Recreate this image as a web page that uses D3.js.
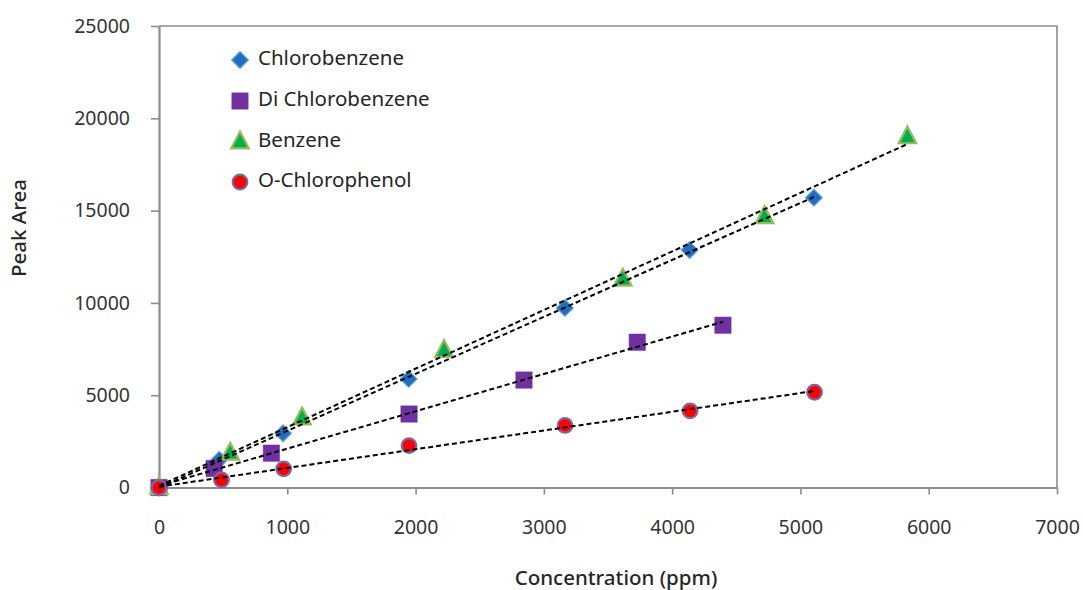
<!DOCTYPE html>
<html>
<head>
<meta charset="utf-8">
<script src="https://cdn.jsdelivr.net/npm/d3@7"></script>
<style>
  html, body { margin: 0; padding: 0; background: #fff; }
  svg { display: block; font-family: "Noto Sans", "Open Sans", sans-serif; }
</style>
</head>
<body>
<svg id="chart" width="1083" height="590"></svg>
<script>
// ---- Data ----
const seriesNames = ["Chlorobenzene", "Di Chlorobenzene", "Benzene", "O-Chlorophenol"];

const chlorobenzeneX = [0, 470, 967, 1946, 3164, 4136, 5105];
const chlorobenzeneY = [0, 1500, 2940, 5880, 9730, 12860, 15700];

const diChlorobenzeneX = [0, 430, 876, 1949, 2845, 3728, 4396];
const diChlorobenzeneY = [0, 1030, 1860, 3980, 5820, 7870, 8790];

const benzeneX = [0, 555, 1115, 2222, 3615, 4720, 5834];
const benzeneY = [0, 1850, 3760, 7420, 11280, 14660, 18990];

const oChlorophenolX = [0, 487, 972, 1949, 3165, 4140, 5110];
const oChlorophenolY = [0, 410, 1010, 2270, 3360, 4150, 5160];

const xTicks = [0, 1000, 2000, 3000, 4000, 5000, 6000, 7000];
const yTicks = [0, 5000, 10000, 15000, 20000, 25000];

const xTitle = "Concentration (ppm)";
const yTitle = "Peak Area";

// ---- Layout ----
const svg = d3.select("#chart");
const plot = { left: 159, right: 1057, top: 26, bottom: 487.5 };

const x = d3.scaleLinear().domain([0, 7000]).range([plot.left, plot.right]);
const y = d3.scaleLinear().domain([0, 25000]).range([plot.bottom, plot.top]);

const axisColor = "#8c8c8c";
const textColor = "#262626";

// plot frame (top & right)
svg.append("path")
  .attr("d", `M${plot.left},${plot.top}H${plot.right}V${plot.bottom}`)
  .attr("fill", "none").attr("stroke", axisColor).attr("stroke-width", 1.6);

// axes
const xAxis = d3.axisBottom(x).tickValues(xTicks).tickFormat(d3.format("d")).tickSizeInner(7).tickSizeOuter(0).tickPadding(26);
const yAxis = d3.axisLeft(y).tickValues(yTicks).tickFormat(d3.format("d")).tickSizeInner(8).tickSizeOuter(0).tickPadding(21);

const gx = svg.append("g").attr("transform", `translate(0,${plot.bottom})`).call(xAxis);
const gy = svg.append("g").attr("transform", `translate(${plot.left},0)`).call(yAxis);

[gx, gy].forEach(g => {
  g.select(".domain").attr("stroke", axisColor).attr("stroke-width", 2.2);
  g.selectAll(".tick line").attr("stroke", axisColor).attr("stroke-width", 1.6);
  g.selectAll(".tick text").attr("fill", "#333").attr("font-size", 19.5)
    .attr("font-family", '"Noto Sans", sans-serif');
});

// axis titles
svg.append("text").attr("x", 616).attr("y", 585).attr("text-anchor", "middle")
  .attr("font-size", 20.5).attr("font-weight", 500).attr("fill", textColor).text(xTitle);
svg.append("text").attr("transform", "translate(26,228) rotate(-90)").attr("text-anchor", "middle")
  .attr("font-size", 20.5).attr("font-weight", 500).attr("fill", textColor).text(yTitle);

// ---- Marker styles ----
const styles = [
  { name: seriesNames[0], xs: chlorobenzeneX, ys: chlorobenzeneY, type: "diamond", fill: "#1f6fc1", stroke: "#5b9bd5", sw: 1.2 },
  { name: seriesNames[1], xs: diChlorobenzeneX, ys: diChlorobenzeneY, type: "square", fill: "#7030a0", stroke: "#7030a0", sw: 0.5 },
  { name: seriesNames[2], xs: benzeneX, ys: benzeneY, type: "triangle", fill: "#00b050", stroke: "#9bbb59", sw: 2.2 },
  { name: seriesNames[3], xs: oChlorophenolX, ys: oChlorophenolY, type: "circle", fill: "#ff0000", stroke: "#8064a2", sw: 2.2 }
];

function markerPath(type) {
  if (type === "diamond") return "M0,-8.3L8.3,0L0,8.3L-8.3,0Z";
  if (type === "square") return "M-8.2,-8.2H8.2V8.2H-8.2Z";
  if (type === "triangle") return "M0,-10.5L8.8,6.3H-8.8Z";
  return d3.symbol().type(d3.symbolCircle).size(Math.PI * 7.3 * 7.3)();
}

// markers
styles.forEach(s => {
  const pts = s.xs.map((v, i) => [v, s.ys[i]]);
  svg.append("g").selectAll("path").data(pts).join("path")
    .attr("transform", d => `translate(${x(d[0])},${y(d[1])})`)
    .attr("d", markerPath(s.type))
    .attr("fill", s.fill).attr("stroke", s.stroke).attr("stroke-width", s.sw);
});

// linear trendlines (least squares), drawn over markers
styles.forEach(s => {
  const n = s.xs.length;
  const mx = d3.mean(s.xs), my = d3.mean(s.ys);
  let sxy = 0, sxx = 0;
  for (let i = 0; i < n; i++) { sxy += (s.xs[i] - mx) * (s.ys[i] - my); sxx += (s.xs[i] - mx) ** 2; }
  const slope = sxy / sxx, icpt = my - slope * mx;
  const x0 = d3.min(s.xs), x1 = d3.max(s.xs);
  svg.append("line")
    .attr("x1", x(x0)).attr("y1", y(icpt + slope * x0))
    .attr("x2", x(x1)).attr("y2", y(icpt + slope * x1))
    .attr("stroke", "#000").attr("stroke-width", 2).attr("stroke-dasharray", "5,3");
});

// legend
const legendY = [58, 99, 140, 180];
const lg = svg.append("g");
styles.forEach((s, i) => {
  lg.append("path").attr("transform", `translate(240,${legendY[i] + 2})`)
    .attr("d", markerPath(s.type)).attr("fill", s.fill).attr("stroke", s.stroke).attr("stroke-width", s.sw);
  lg.append("text").attr("x", 258).attr("y", legendY[i]).attr("dy", "0.33em")
    .attr("font-size", 20.5).attr("fill", textColor).text(s.name);
});
</script>
</body>
</html>
